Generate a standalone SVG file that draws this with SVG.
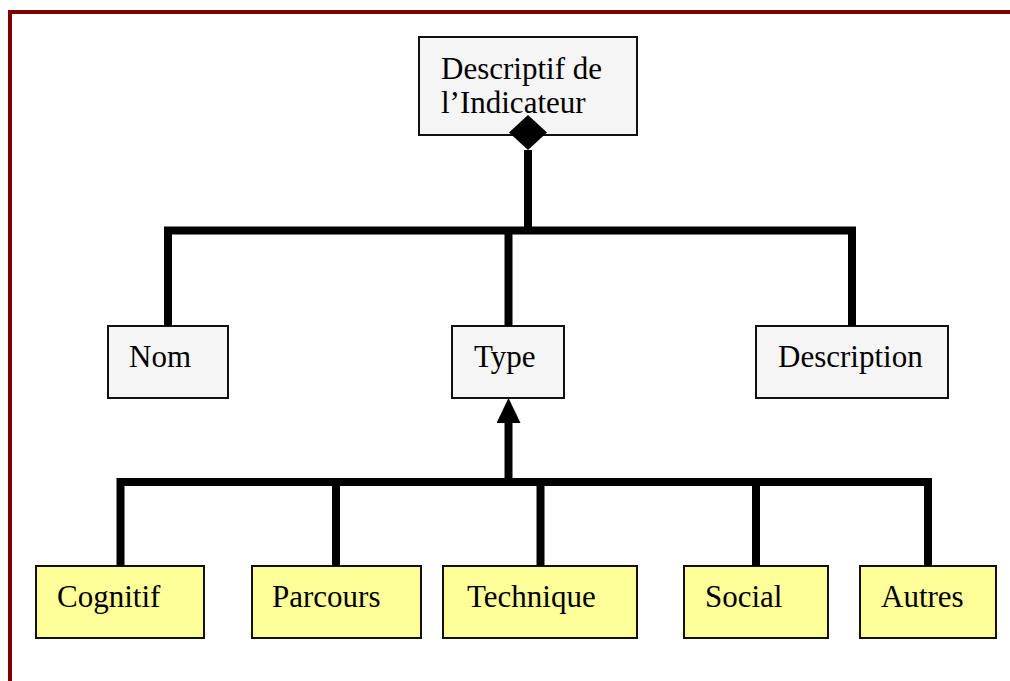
<svg xmlns="http://www.w3.org/2000/svg" width="1010" height="681" viewBox="0 0 1010 681">
<style>
.box{stroke:#111;stroke-width:2}
.g{fill:#f5f5f5}
.y{fill:#ffff99}
.t{font-family:"Liberation Serif","Times New Roman",serif;font-size:31px;fill:#000}
.c{fill:none;stroke:#000;stroke-width:8;stroke-linejoin:miter;stroke-linecap:butt}
</style>
<defs>
<marker id="diamond" viewBox="0 0 35 38" refX="0" refY="19" markerWidth="35" markerHeight="38" markerUnits="userSpaceOnUse" orient="auto">
<path d="M0,19 L17.5,0 L35,19 L17.5,38 Z" fill="#000"/>
</marker>
<marker id="arrow" viewBox="0 0 25 24" refX="0" refY="12" markerWidth="25" markerHeight="24" markerUnits="userSpaceOnUse" orient="auto">
<path d="M0,0 L25,12 L0,24 Z" fill="#000"/>
</marker>
</defs>
<rect width="1010" height="681" fill="#fff"/>
<path d="M10,681 V12 H1010" fill="none" stroke="#800000" stroke-width="4"/>
<g id="descriptif">
<rect class="box g" x="419" y="37" width="218" height="98"/>
<text class="t" x="441" y="79">Descriptif de</text>
<text class="t" x="441" y="113">l’Indicateur</text>
</g>
<g id="nom">
<rect class="box g" x="108" y="326" width="120" height="72"/>
<text class="t" x="129" y="367">Nom</text>
</g>
<g id="type">
<rect class="box g" x="452" y="326" width="112" height="72"/>
<text class="t" x="474" y="367">Type</text>
</g>
<g id="description">
<rect class="box g" x="756" y="326" width="192" height="72"/>
<text class="t" x="778" y="367">Description</text>
</g>
<g id="cognitif">
<rect class="box y" x="36" y="566" width="168" height="72"/>
<text class="t" x="57" y="607">Cognitif</text>
</g>
<g id="parcours">
<rect class="box y" x="252" y="566" width="169" height="72"/>
<text class="t" x="272" y="607">Parcours</text>
</g>
<g id="technique">
<rect class="box y" x="443" y="566" width="194" height="72"/>
<text class="t" x="467" y="607">Technique</text>
</g>
<g id="social">
<rect class="box y" x="684" y="566" width="144" height="72"/>
<text class="t" x="705" y="607">Social</text>
</g>
<g id="autres">
<rect class="box y" x="860" y="566" width="136" height="72"/>
<text class="t" x="881" y="607">Autres</text>
</g>
<g id="connectors">
<path class="c" d="M528,234 V150" marker-end="url(#diamond)"/>
<path class="c" d="M168,326 V230.5 H852 V326"/>
<path class="c" d="M508.5,230 V326"/>
<path class="c" d="M508.5,486 V423" marker-end="url(#arrow)"/>
<path class="c" d="M120.5,566 V482 H928 V566"/>
<path class="c" d="M336,482 V566"/>
<path class="c" d="M540.5,482 V566"/>
<path class="c" d="M756,482 V566"/>
</g>
</svg>
